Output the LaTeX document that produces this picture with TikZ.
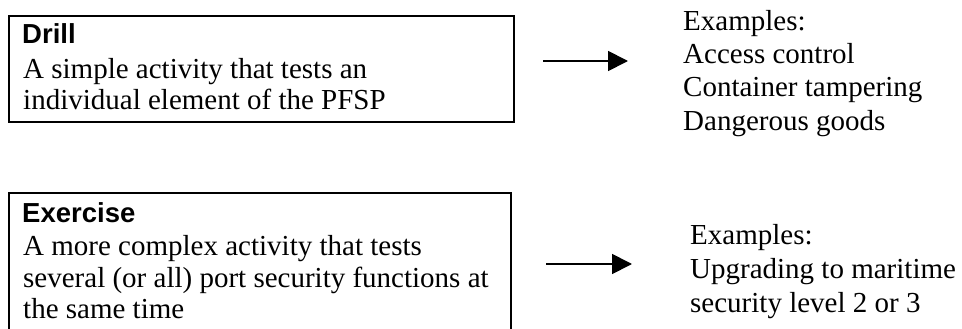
\documentclass[tikz,border=0pt]{standalone}
\usepackage{fontspec}
\setmainfont{Liberation Serif}
\newfontfamily\headfont{Liberation Sans}
\usetikzlibrary{arrows.meta}
\begin{document}
\begin{tikzpicture}[x=1pt,y=-1pt,
  body/.style={anchor=base west, inner sep=0pt, font=\fontsize{29}{33}\selectfont},
  head/.style={anchor=base west, inner sep=0pt, font=\headfont\bfseries\fontsize{27.5}{33}\selectfont},
  frame/.style={draw, line width=2pt, inner sep=0pt, anchor=north west},
  link/.style={line width=1.8pt, -{Triangle[length=20pt,width=20pt]}}]
\useasboundingbox (0,0) rectangle (962,329);

% Drill box and its text
\node[frame, minimum width=505pt, minimum height=106pt] (drillbox) at (8,15) {};
\node[head] (drillhead) at (22,44) {Drill};
\node[body] (drillA) at (23,78) {A simple activity that tests an};
\node[body] (drillB) at (23,110) {individual element of the PFSP};

% Exercise box (runs past the lower edge) and its text
\node[frame, minimum width=502pt, minimum height=142pt] (exbox) at (8,192) {};
\node[head] (exhead) at (22,222) {Exercise};
\node[body] (exA) at (23,255) {A more complex activity that tests};
\node[body] (exB) at (23,287) {several (or all) port security functions at};
\node[body] (exC) at (23,318) {the same time};

% Examples for drills
\node[body] (dx0) at (683,31) {Examples:};
\node[body] (dx1) at (683,64) {Access control};
\node[body] (dx2) at (683,97) {Container tampering};
\node[body] (dx3) at (683,130) {Dangerous goods};

% Examples for exercises
\node[body] (ex0) at (690,244) {Examples:};
\node[body] (ex1) at (690,278) {Upgrading to maritime};
\node[body] (ex2) at (690,312) {security level 2 or 3};

% Arrows
\coordinate (a1s) at (543,61);
\coordinate (a1e) at (628,61);
\coordinate (a2s) at (546,264);
\coordinate (a2e) at (632,264);
\draw[link] (a1s) -- (a1e);
\draw[link] (a2s) -- (a2e);
\end{tikzpicture}
\end{document}
